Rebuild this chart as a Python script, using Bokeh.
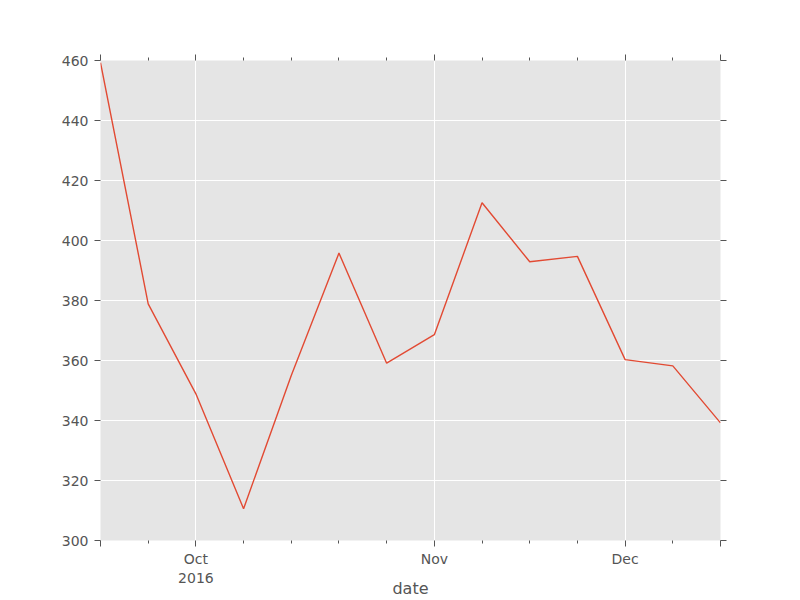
import pandas as pd
from bokeh.plotting import figure
from bokeh.models import Range1d, FixedTicker, LinearAxis, ColumnDataSource
from bokeh.embed import file_html
from bokeh.resources import INLINE

# weekly observations
dates = ["2016-09-18", "2016-09-25", "2016-10-02", "2016-10-09", "2016-10-16",
         "2016-10-23", "2016-10-30", "2016-11-06", "2016-11-13", "2016-11-20",
         "2016-11-27", "2016-12-04", "2016-12-11", "2016-12-18"]
values = [459.3, 378.9, 348.9, 310.6, 355.0, 395.8, 359.1,
          368.6, 412.6, 392.9, 394.7, 360.3, 358.2, 339.2]
y_ticks = [300, 320, 340, 360, 380, 400, 420, 440, 460]
x_label = "date"

dt = pd.to_datetime(dates)
idx = list(range(len(dates)))

# month ticks at first week of each month (pandas period style)
seen = {(dt[0].year, dt[0].month)}
month_ticks = {}
for i, d in enumerate(dt):
    key = (d.year, d.month)
    if key not in seen:
        seen.add(key)
        month_ticks[key] = i
major = [0] + list(month_ticks.values()) + [len(dates) - 1]
minor = [i for i in idx if i not in major]
labels = {0: "", len(dates) - 1: ""}
first = True
for (yr, mo), i in month_ticks.items():
    name = pd.Timestamp(year=yr, month=mo, day=1).strftime("%b")
    labels[i] = name + ("\n" + str(yr) if first else "")
    first = False

FONT = "DejaVu Sans"
TXT = "#555555"

p = figure(width=800, height=600, output_backend="svg", toolbar_location=None,
           x_range=Range1d(0, len(dates) - 1), y_range=Range1d(300, 460),
           min_border_left=100, min_border_right=80, min_border_top=60, min_border_bottom=60)
p.background_fill_color = "#E5E5E5"
p.border_fill_color = "white"
p.outline_line_color = None

src = ColumnDataSource(dict(x=idx, y=values))
p.line("x", "y", source=src, line_color="#E24A33", line_width=1.4)

xt = FixedTicker(ticks=major, minor_ticks=minor)
yt = FixedTicker(ticks=y_ticks, minor_ticks=[])

def style(ax, show_labels=True):
    ax.axis_line_color = None
    ax.major_tick_line_color = TXT
    ax.minor_tick_line_color = TXT
    ax.major_tick_in = 0
    ax.major_tick_out = 6
    ax.minor_tick_in = 0
    ax.minor_tick_out = 3
    ax.major_label_text_font = FONT
    ax.major_label_text_font_size = "14px"
    ax.major_label_text_color = TXT
    ax.major_label_standoff = 4
    if not show_labels:
        ax.major_label_text_alpha = 0

p.xaxis.ticker = xt
p.xaxis.major_label_overrides = labels
style(p.xaxis[0])
p.xaxis.axis_label = x_label
p.xaxis.axis_label_text_font = FONT
p.xaxis.axis_label_text_font_size = "16px"
p.xaxis.axis_label_text_font_style = "normal"
p.xaxis.axis_label_text_color = TXT
p.xaxis.axis_label_standoff = -10

p.yaxis.ticker = yt
style(p.yaxis[0])
p.yaxis.minor_tick_out = 0
p.yaxis.major_label_standoff = 6

top = LinearAxis(ticker=FixedTicker(ticks=major, minor_ticks=minor))
style(top, False)
top.major_label_text_font_size = "0px"
top.major_label_standoff = 0
p.add_layout(top, "above")

right = LinearAxis(ticker=FixedTicker(ticks=y_ticks, minor_ticks=[]))
style(right, False)
right.major_label_text_font_size = "0px"
right.major_label_standoff = 0
right.minor_tick_out = 0
p.add_layout(right, "right")

p.xgrid.ticker = FixedTicker(ticks=list(month_ticks.values()))
p.ygrid.ticker = yt
p.grid.grid_line_color = "white"
p.grid.grid_line_width = 1

open("out.html", "w").write(file_html(p, INLINE))
